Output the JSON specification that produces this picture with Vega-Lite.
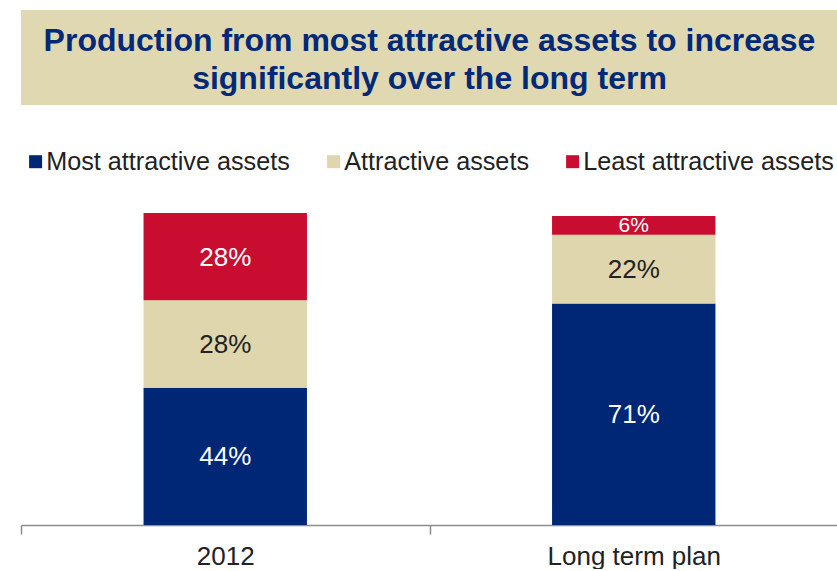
{
  "$schema": "https://vega.github.io/schema/vega-lite/v6.json",
  "padding": {"left": 20, "top": 10, "right": 0, "bottom": 0},
  "background": "white",
  "bounds": "flush",
  "spacing": 108,
  "config": {
    "font": "Liberation Sans",
    "view": {"stroke": null}
  },
  "vconcat": [
    {
      "width": 817,
      "height": 95,
      "view": {"fill": "#e0d8b0", "stroke": null},
      "data": {
        "values": [
          {"line": 1, "text": "Production from most attractive assets to increase"},
          {"line": 2, "text": "significantly over the long term"}
        ]
      },
      "mark": {
        "type": "text",
        "fontSize": 32,
        "fontWeight": "bold",
        "color": "#002a78",
        "baseline": "middle",
        "align": "center",
        "dy": 2
      },
      "encoding": {
        "y": {
          "field": "line",
          "type": "ordinal",
          "axis": null,
          "scale": {"type": "point", "padding": 0.75}
        },
        "text": {"field": "text"}
      }
    },
    {
      "width": 817,
      "height": 312,
      "data": {
        "values": [
          {"period": "2012", "segment": "Most attractive assets", "rank": 1, "share": 0.44},
          {"period": "2012", "segment": "Attractive assets", "rank": 2, "share": 0.28},
          {"period": "2012", "segment": "Least attractive assets", "rank": 3, "share": 0.28},
          {"period": "Long term plan", "segment": "Most attractive assets", "rank": 1, "share": 0.71},
          {"period": "Long term plan", "segment": "Attractive assets", "rank": 2, "share": 0.22},
          {"period": "Long term plan", "segment": "Least attractive assets", "rank": 3, "share": 0.06}
        ]
      },
      "transform": [
        {"stack": "share", "groupby": ["period"], "sort": [{"field": "rank"}], "as": ["s0", "s1"]},
        {"calculate": "(datum.s0 + datum.s1) / 2", "as": "mid"}
      ],
      "encoding": {
        "x": {
          "field": "period",
          "type": "nominal",
          "sort": ["2012", "Long term plan"],
          "scale": {"paddingInner": 0, "paddingOuter": 0},
          "axis": {
            "title": null,
            "labelAngle": 0,
            "labelFontSize": 26,
            "labelColor": "#222222",
            "labelPadding": 9,
            "domainColor": "#8c8c8c",
            "domainWidth": 1.5,
            "tickColor": "#8c8c8c",
            "tickWidth": 1.5,
            "tickSize": 9,
            "tickBand": "extent"
          }
        }
      },
      "layer": [
        {
          "mark": {"type": "bar", "width": {"band": 0.4}},
          "encoding": {
            "y": {"field": "s0", "type": "quantitative", "scale": {"domain": [0, 1]}, "axis": null},
            "y2": {"field": "s1"},
            "color": {
              "field": "segment",
              "type": "nominal",
              "sort": ["Most attractive assets", "Attractive assets", "Least attractive assets"],
              "scale": {
                "domain": ["Most attractive assets", "Attractive assets", "Least attractive assets"],
                "range": ["#002776", "#dfd6ae", "#c80d31"]
              },
              "legend": {
                "title": null,
                "orient": "none",
                "direction": "horizontal",
                "legendX": 2,
                "legendY": 139,
                "padding": 0,
                "symbolType": "square",
                "symbolSize": 169,
                "symbolStrokeWidth": 0,
                "labelFontSize": 25.2,
                "labelColor": "#222222",
                "labelOffset": -2,
                "columnPadding": 31,
                "labelLimit": 400
              }
            }
          }
        },
        {
          "mark": {"type": "text", "baseline": "middle", "align": "center", "dy": 1},
          "encoding": {
            "y": {"field": "mid", "type": "quantitative"},
            "text": {"field": "share", "type": "quantitative", "format": ".0%"},
            "color": {
              "condition": {"test": "datum.segment === 'Attractive assets'", "value": "#222222"},
              "value": "#ffffff"
            },
            "size": {
              "condition": {"test": "datum.share < 0.1", "value": 21},
              "value": 26
            }
          }
        }
      ]
    }
  ]
}
